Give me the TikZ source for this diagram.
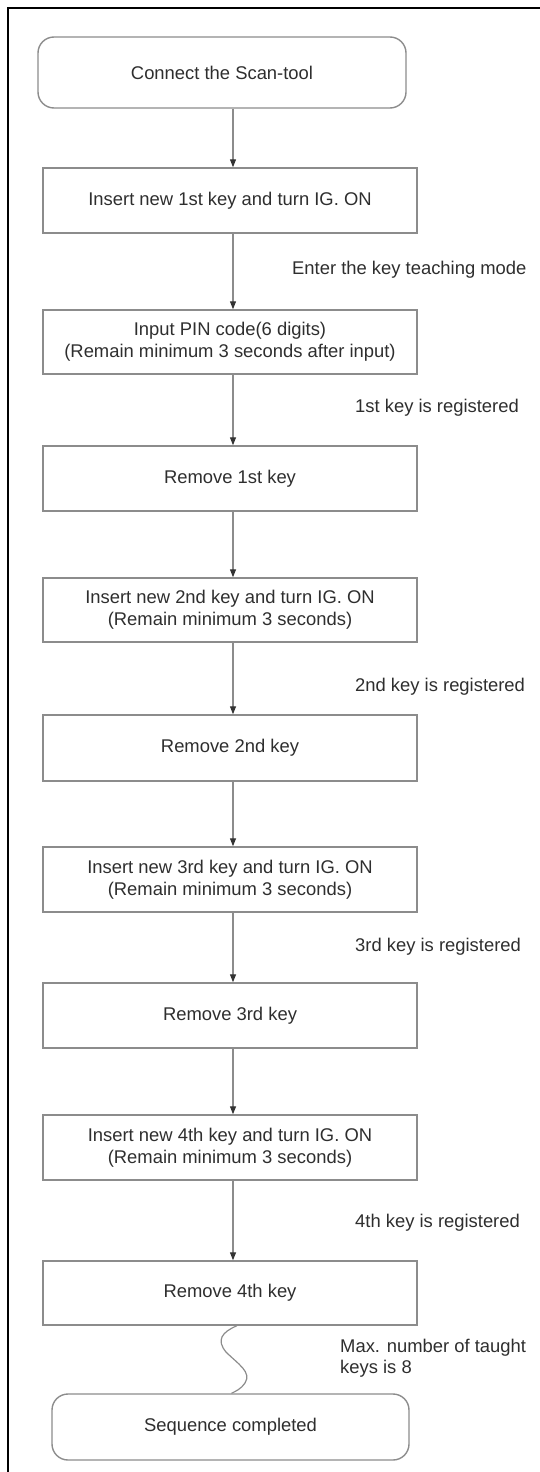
\documentclass[tikz,border=0pt]{standalone}
\usepackage{fontspec}
\setmainfont{Liberation Sans}
\usetikzlibrary{arrows.meta}
\definecolor{boxline}{HTML}{8C8C8C}
\definecolor{txt}{HTML}{2E2E2E}
\tikzset{
  stepbox/.style={draw=boxline, line width=1.4pt, minimum width=374pt, minimum height=65pt, inner sep=0pt, align=center, text=txt, font=\fontsize{18.4}{22}\selectfont},
  termbox/.style={stepbox, rounded corners=16pt},
  lbl/.style={anchor=west, text=txt, inner sep=0pt, align=left, font=\fontsize{18.4}{20.5}\selectfont},
  arr/.style={draw=boxline, line width=1.2pt, -{Triangle[length=8pt,width=6pt,fill=black!80,color=black!80]}},
  frameline/.style={draw=black, line width=2pt}
}
\begin{document}
\begin{tikzpicture}[x=1pt,y=-1pt]
\useasboundingbox (0,0) rectangle (540,1472);
\draw[frameline] (8,1480) -- (8,8) -- (548,8);
\coordinate (ax) at (233,0);

\node[termbox, minimum width=368pt, minimum height=71pt] (b1) at (222,72.5) {Connect the Scan-tool};
\node[stepbox] (b2) at (230,200.5) {Insert new 1st key and turn IG. ON};
\node[stepbox, minimum height=64pt] (b3) at (230,342) {Input PIN code(6 digits)\\(Remain minimum 3 seconds after input)};
\node[stepbox] (b4) at (230,478.5) {Remove 1st key};
\node[stepbox, minimum height=64pt] (b5) at (230,610) {Insert new 2nd key and turn IG. ON\\(Remain minimum 3 seconds)};
\node[stepbox, minimum height=66pt] (b6) at (230,748) {Remove 2nd key};
\node[stepbox] (b7) at (230,879.5) {Insert new 3rd key and turn IG. ON\\(Remain minimum 3 seconds)};
\node[stepbox] (b8) at (230,1015.5) {Remove 3rd key};
\node[stepbox] (b9) at (230,1147.5) {Insert new 4th key and turn IG. ON\\(Remain minimum 3 seconds)};
\node[stepbox, minimum height=64pt] (b10) at (230,1293) {Remove 4th key};
\node[termbox, minimum width=357pt, minimum height=66pt] (b11) at (230.5,1427) {Sequence completed};

\draw[arr] (b1.south -| ax) -- (b2.north -| ax);
\draw[arr] (b2.south -| ax) -- (b3.north -| ax);
\draw[arr] (b3.south -| ax) -- (b4.north -| ax);
\draw[arr] (b4.south -| ax) -- (b5.north -| ax);
\draw[arr] (b5.south -| ax) -- (b6.north -| ax);
\draw[arr] (b6.south -| ax) -- (b7.north -| ax);
\draw[arr] (b7.south -| ax) -- (b8.north -| ax);
\draw[arr] (b8.south -| ax) -- (b9.north -| ax);
\draw[arr] (b9.south -| ax) -- (b10.north -| ax);
\draw[draw=boxline, line width=1.2pt] ([xshift=7pt]b10.south) .. controls (222,1332) and (216,1340) .. (226,1352) .. controls (238,1364) and (252,1372) .. (245,1383) .. controls (241,1389) and (236,1391) .. ([xshift=1pt]b11.north);

\node[lbl] (l1) at (292,270) {Enter the key teaching mode};
\node[lbl] (l2) at (355,408) {1st key is registered};
\node[lbl] (l3) at (355,687) {2nd key is registered};
\node[lbl] (l4) at (355,947) {3rd key is registered};
\node[lbl] (l5) at (355,1223) {4th key is registered};
\node[lbl] (l6) at (340,1358) {Max. number of taught\\keys is 8};
\end{tikzpicture}
\end{document}
